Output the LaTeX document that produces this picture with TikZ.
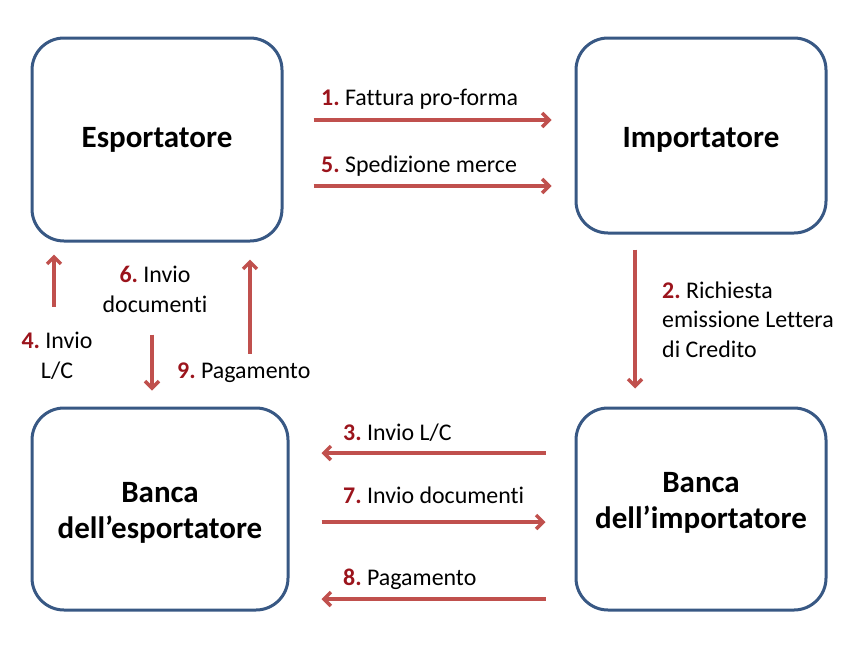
\documentclass[tikz,border=0pt]{standalone}
\usepackage{fontspec}
\setmainfont{Carlito}[Ligatures={NoCommon}]
\usetikzlibrary{positioning, arrows.meta}
\definecolor{boxcolor}{RGB}{56,88,132}
\definecolor{flowcolor}{RGB}{192,80,77}
\definecolor{numcolor}{RGB}{155,20,28}
\newcommand{\stepnum}[1]{\textbf{\textcolor{numcolor}{#1.}}~}

\begin{document}
\begin{tikzpicture}[x=1pt, y=-1pt,
    actor/.style={rectangle, rounded corners=32pt, draw=boxcolor, line width=3pt, fill=white,
        align=center, font=\fontsize{31}{36}\selectfont\bfseries},
    flow/.style={-{Straight Barb[length=7pt, width=14pt]}, line width=3.5pt, draw=flowcolor},
    lbl/.style={inner sep=0pt, font=\fontsize{23.9}{29.5}\selectfont}
]
    \useasboundingbox (0,0) rectangle (864,648);

    % === I quattro soggetti ===
    \node[actor, minimum width=250pt, minimum height=203pt] (esp) at (157,139.5) {Esportatore};
    \node[actor, minimum width=250pt, minimum height=195pt, text height=23pt, text depth=0pt] (imp) at (701,135.5) {Importatore};
    \node[actor, minimum width=256pt, minimum height=202pt, text height=58pt, text depth=0pt] (besp) at (160,509) {Banca\\dell'esportatore};
    \node[actor, minimum width=250pt, minimum height=202pt, text height=38pt, text depth=0pt] (bimp) at (701,509) {Banca\\dell'importatore};

    % === Esportatore <-> Importatore ===
    \draw[flow] ([xshift=30pt]esp.east |- 0,120) -- ([xshift=-23pt]imp.west |- 0,120);
    \node[lbl, anchor=base west] (l1) at (321,105) {\stepnum{1}Fattura pro-forma};
    \draw[flow] ([xshift=30pt]esp.east |- 0,186) -- ([xshift=-23pt]imp.west |- 0,186);
    \node[lbl, anchor=base west] (l5) at (321,172) {\stepnum{5}Spedizione merce};

    % === Importatore -> Banca dell'importatore ===
    \draw[flow] ([yshift=-15pt]imp.south -| 635,0) -- ([yshift=18pt]bimp.north -| 635,0);
    \node[lbl, anchor=base west, align=left] (l2) at (662,357) {\stepnum{2}Richiesta\\emissione Lettera\\di Credito};

    % === Banche ===
    \draw[flow] ([xshift=-29pt]bimp.west |- 0,453) -- ([xshift=32pt]besp.east |- 0,453);
    \node[lbl, anchor=base west] (l3) at (343,440) {\stepnum{3}Invio L/C};
    \draw[flow] ([xshift=32pt]besp.east |- 0,522) -- ([xshift=-29pt]bimp.west |- 0,522);
    \node[lbl, anchor=base west] (l7) at (343,503) {\stepnum{7}Invio documenti};
    \draw[flow] ([xshift=-29pt]bimp.west |- 0,599) -- ([xshift=32pt]besp.east |- 0,599);
    \node[lbl, anchor=base west] (l8) at (343,585) {\stepnum{8}Pagamento};

    % === Esportatore <-> Banca dell'esportatore ===
    \draw[flow] ([yshift=100pt]besp.north -| 54,0) -- ([yshift=-12pt]esp.south -| 54,0);
    \node[lbl, anchor=base, align=center] (l4) at (57,378) {\stepnum{4}Invio\\L/C};
    \draw[flow] ([yshift=-92pt]esp.south -| 152,0) -- ([yshift=16pt]besp.north -| 152,0);
    \node[lbl, anchor=base, align=center] (l6) at (155,312) {\stepnum{6}Invio\\documenti};
    \draw[flow] ([yshift=53pt]besp.north -| 250,0) -- ([yshift=-17pt]esp.south -| 250,0);
    \node[lbl, anchor=base west] (l9) at (177,378) {\stepnum{9}Pagamento};
\end{tikzpicture}
\end{document}
